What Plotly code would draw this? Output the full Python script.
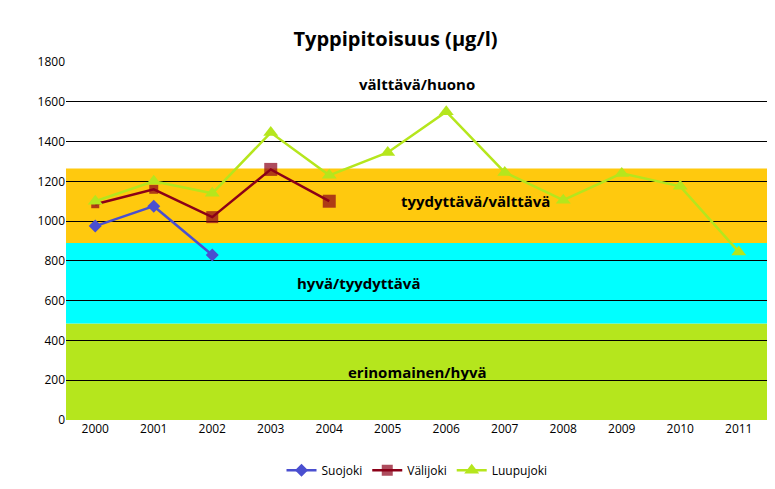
import plotly.graph_objects as go

years = [str(y) for y in range(2000, 2012)]
suojoki = [975, 1075, 830]
valijoki = [1085, 1160, 1020, 1260, 1100]
luupujoki = [1100, 1200, 1140, 1445, 1230, 1345, 1550, 1245, 1105, 1240, 1175, 845]

bands = [(0, 485, "#b5e61d"), (485, 890, "#00ffff"), (890, 1265, "#ffc90e")]
band_labels = [(240, "erinomainen/hyvä", 5.5), (690, "hyvä/tyydyttävä", 4.5),
               (1100, "tyydyttävä/välttävä", 6.5), (1690, "välttävä/huono", 5.5)]

fig = go.Figure()
for y0, y1, col in bands:
    fig.add_shape(type="rect", xref="paper", x0=0, x1=1, y0=y0, y1=y1,
                  fillcolor=col, line_width=0, layer="below")

fig.add_trace(go.Scatter(x=years[:3], y=suojoki, name="Suojoki", mode="lines+markers",
                         line=dict(color="#4a4fd0", width=2.5),
                         marker=dict(symbol="diamond", size=10, color="#4a4fd0",
                                     line=dict(width=0))))
fig.add_trace(go.Scatter(x=years[:5], y=valijoki, name="Välijoki", mode="lines+markers",
                         line=dict(color="#8b0018", width=2.5),
                         marker=dict(symbol="square", size=[8, 9, 12, 13, 13], color="#8b0018",
                                     line=dict(width=0))))
fig.add_trace(go.Scatter(x=years, y=luupujoki, name="Luupujoki", mode="lines+markers",
                         line=dict(color="#b5e61d", width=2.5),
                         marker=dict(symbol="triangle-up", size=13, color="#b5e61d",
                                     line=dict(width=0))))

for yv, txt, xv in band_labels:
    fig.add_annotation(x=xv, y=yv, xref="x", yref="y", text="<b>%s</b>" % txt,
                       showarrow=False, font=dict(size=15, color="black"))

fig.update_layout(
    width=775, height=489,
    paper_bgcolor="white", plot_bgcolor="white",
    margin=dict(l=58, r=15, t=54, b=75),
    title=dict(text="<b>Typpipitoisuus (µg/l)</b>", x=0.5, y=0.95, xanchor="center",
               font=dict(size=20, color="black", family="Open Sans")),
    font=dict(family="Open Sans", size=12, color="black"),
    legend=dict(orientation="h", x=0.5, xanchor="center", y=-0.1, yanchor="top",
                font=dict(size=12)),
    xaxis=dict(type="category", showgrid=False, showline=False, ticks="",
               range=[-0.5, 11.5]),
    yaxis=dict(range=[0, 1800], dtick=200, showgrid=True, gridcolor="black",
               gridwidth=1, zeroline=False, layer="below traces"),
)
fig.write_html("out.html")
